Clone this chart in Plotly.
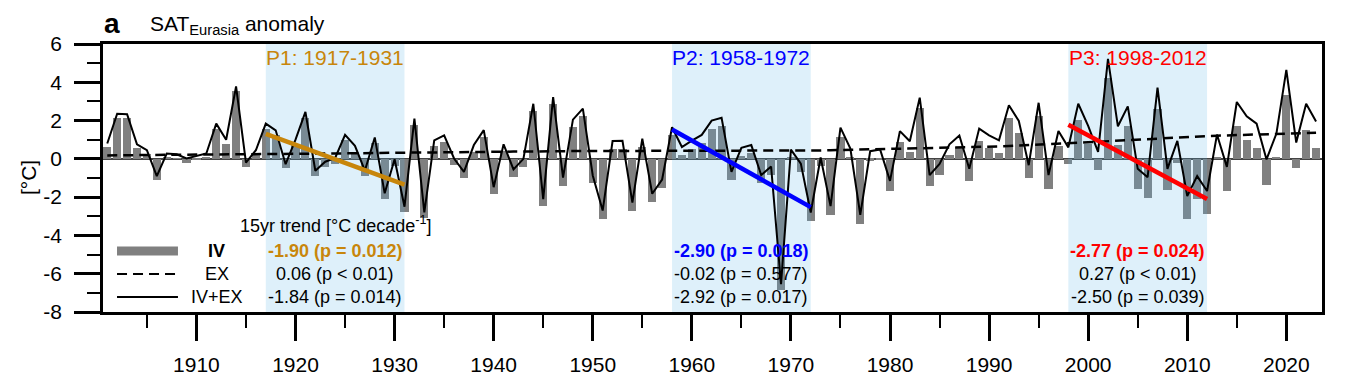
import plotly.graph_objects as go

years = list(range(1901, 2024))

iv = [0.63, 2.15, 2.15, 0.59, 0.25, -1.08, 0.05, 0.02, -0.21, -0.08,
      0.05, 1.58, 0.78, 3.55, -0.42, 0.22, 1.58, 1.23, -0.50, 0.75,
      2.15, -0.88, -0.42, -0.25, 0.97, 0.38, -0.90, 0.82, -2.10, -0.35,
      -2.80, 1.78, -3.10, 0.65, 0.89, -0.33, -1.00, 0.38, 1.15, -1.84,
      0.40, -0.97, -0.42, 2.49, -2.47, 2.85, -1.41, 1.67, 2.22, -1.28,
      -3.16, 0.50, 0.52, -2.71, 0.64, -2.26, -1.50, 1.25, 0.20, 0.50,
      0.85, 1.55, 1.72, -1.10, 0.15, 0.30, -1.25, -0.82, -6.85, 0.05,
      -0.68, -3.25, -0.38, -2.95, 1.15, 0.05, -3.40, -0.10, -0.02, -1.70,
      0.88, 0.35, 2.68, -1.42, -0.85, 0.19, 0.62, -1.15, 0.95, 0.55,
      0.30, 2.15, 1.35, -0.98, 2.22, -1.55, 0.68, -0.25, 2.01, 0.80,
      -0.56, 4.20, 0.72, 1.72, -1.58, -2.05, 2.62, -1.63, -0.22, -3.12,
      -2.10, -2.88, 0.08, -1.67, 1.72, 0.97, 0.57, -1.35, 0.05, 3.35,
      -0.47, 1.50, 0.57]

ivex = [0.80, 2.36, 2.33, 0.76, 0.45, -0.90, 0.28, 0.24, 0.02, 0.14,
        0.28, 1.84, 1.00, 3.78, -0.20, 0.45, 1.84, 1.49, -0.28, 1.00,
        2.45, -0.62, -0.15, 0.05, 1.25, 0.68, -0.62, 1.12, -1.80, -0.02,
        -2.50, 2.10, -2.80, 0.97, 1.23, 0.02, -0.68, 0.72, 1.50, -1.48,
        0.76, -0.55, 0.00, 2.88, -2.10, 3.22, -0.98, 2.05, 2.62, -0.87,
        -2.70, 0.93, 0.94, -2.29, 1.06, -1.82, -1.08, 1.65, 0.62, 0.95,
        1.25, 2.00, 2.15, -0.68, 0.58, 0.72, -0.85, -0.40, -6.55, 0.48,
        -0.25, -2.80, 0.07, -2.47, 1.63, 0.54, -2.93, 0.40, 0.49, -1.15,
        1.45, 0.92, 3.20, -0.85, -0.26, 0.76, 1.22, -0.52, 1.58, 1.23,
        0.97, 2.80, 1.98, -0.33, 2.93, -0.85, 1.46, 0.60, 2.88, 1.72,
        0.36, 5.22, 1.70, 2.74, -0.52, -0.96, 3.72, -0.52, 0.94, -1.94,
        -0.90, -1.68, 1.27, -0.42, 2.97, 2.22, 1.84, -0.03, 1.32, 4.65,
        0.85, 2.88, 1.95]

ex = [0.18, 0.19, 0.20, 0.20, 0.21, 0.21, 0.22, 0.22, 0.22, 0.23,
      0.23, 0.23, 0.24, 0.24, 0.24, 0.25, 0.25, 0.25, 0.26, 0.26,
      0.27, 0.27, 0.28, 0.28, 0.29, 0.29, 0.30, 0.31, 0.31, 0.32,
      0.32, 0.33, 0.33, 0.34, 0.34, 0.35, 0.35, 0.36, 0.36, 0.37,
      0.37, 0.38, 0.38, 0.39, 0.39, 0.40, 0.40, 0.40, 0.41, 0.41,
      0.41, 0.42, 0.42, 0.42, 0.43, 0.43, 0.43, 0.44, 0.44, 0.44,
      0.44, 0.44, 0.44, 0.44, 0.43, 0.43, 0.43, 0.43, 0.43, 0.43,
      0.43, 0.43, 0.44, 0.45, 0.46, 0.47, 0.48, 0.50, 0.51, 0.52,
      0.53, 0.54, 0.55, 0.56, 0.57, 0.58, 0.59, 0.61, 0.62, 0.64,
      0.65, 0.67, 0.69, 0.71, 0.73, 0.75, 0.78, 0.81, 0.84, 0.87,
      0.90, 0.93, 0.96, 0.99, 1.02, 1.05, 1.08, 1.10, 1.13, 1.15,
      1.17, 1.19, 1.21, 1.23, 1.25, 1.27, 1.28, 1.30, 1.31, 1.32,
      1.34, 1.35, 1.36]

period_names = ["P1", "P2", "P3"]
period_start = [1917, 1958, 1998]
period_end = [1931, 1972, 2012]
period_colors = ["#C8860B", "#0000FF", "#FF0000"]
trend_iv = ["-1.90", "-2.90", "-2.77"]
p_iv = ["p = 0.012", "p = 0.018", "p = 0.024"]
trend_ex = ["0.06", "-0.02", "0.27"]
p_ex = ["p &lt; 0.01", "p = 0.577", "p &lt; 0.01"]
trend_all = ["-1.84", "-2.92", "-2.50"]
p_all = ["p = 0.014", "p = 0.017", "p = 0.039"]

x_ticks = [1910, 1920, 1930, 1940, 1950, 1960, 1970, 1980, 1990, 2000, 2010, 2020]
y_ticks = [-8, -6, -4, -2, 0, 2, 4, 6]
y_ticktext = ["-8", "-6", "-4", "-2", "0", "2", "4", "6"]

YMIN, YMAX = -8, 6
FONT = "Liberation Sans, Arial, Helvetica, sans-serif"

fig = go.Figure()

fig.add_trace(go.Bar(x=years, y=iv, marker=dict(color="#808080", line=dict(width=0)),
                     width=0.82, showlegend=False))

# shaded periods (drawn above bars, below lines)
for s, e in zip(period_start, period_end):
    fig.add_trace(go.Scatter(x=[s, e, e, s, s], y=[YMIN, YMIN, YMAX, YMAX, YMIN],
                             mode="lines", fill="toself", line=dict(width=0),
                             fillcolor="rgba(90,180,230,0.2)", hoverinfo="skip",
                             showlegend=False))

fig.add_trace(go.Scatter(x=years, y=ex, mode="lines",
                         line=dict(color="black", width=2.5, dash="10px,6px"),
                         showlegend=False))
fig.add_trace(go.Scatter(x=years, y=ivex, mode="lines",
                         line=dict(color="black", width=2), showlegend=False))

# IV trend lines: published slope (per decade) through the period mean
for s, e, c, t in zip(period_start, period_end, period_colors, trend_iv):
    idx = [i for i, y in enumerate(years) if s <= y <= e]
    xs = [years[i] for i in idx]
    ys = [iv[i] for i in idx]
    xm = sum(xs) / len(xs)
    ym = sum(ys) / len(ys)
    slope = float(t) / 10.0
    fig.add_trace(go.Scatter(x=[s, e], y=[ym + slope * (s - xm), ym + slope * (e - xm)],
                             mode="lines", line=dict(color=c, width=4.5),
                             showlegend=False))

ann = []
shapes = []

row_y = [0.228, 0.142, 0.056]
for name, s, e, c, a1, b1, a2, b2, a3, b3 in zip(period_names, period_start, period_end,
                                                  period_colors, trend_iv, p_iv, trend_ex,
                                                  p_ex, trend_all, p_all):
    xc = (s + e) / 2
    ann.append(dict(x=xc, y=0.948, xref="x", yref="paper", text=f"{name}: {s}-{e}",
                    xanchor="center", yanchor="middle",
                    showarrow=False, font=dict(size=21, color=c, family=FONT)))
    ann.append(dict(x=xc, y=row_y[0], xref="x", yref="paper", text=f"<b>{a1} ({b1})</b>",
                    xanchor="center", yanchor="middle",
                    showarrow=False, font=dict(size=18, color=c, family=FONT)))
    ann.append(dict(x=xc, y=row_y[1], xref="x", yref="paper", text=f"{a2} ({b2})",
                    xanchor="center", yanchor="middle",
                    showarrow=False, font=dict(size=18, color="black", family=FONT)))
    ann.append(dict(x=xc, y=row_y[2], xref="x", yref="paper", text=f"{a3} ({b3})",
                    xanchor="center", yanchor="middle",
                    showarrow=False, font=dict(size=18, color="black", family=FONT)))

ann.append(dict(x=0.191, y=0.325, xref="paper", yref="paper",
                xanchor="center", yanchor="middle",
                text="15yr trend [°C decade<sup>-1</sup>]", showarrow=False,
                font=dict(size=18, color="black", family=FONT)))

# legend
leg_labels = ["<b>IV</b>", "EX", "IV+EX"]
for lab, yy in zip(leg_labels, row_y):
    ann.append(dict(x=0.0935, y=yy, xref="paper", yref="paper", text=lab, showarrow=False,
                    xanchor="center", yanchor="middle",
                    font=dict(size=18, color="black", family=FONT)))
shapes.append(dict(type="line", xref="paper", yref="paper", x0=0.0115, x1=0.0615,
                   y0=row_y[0], y1=row_y[0], line=dict(color="#808080", width=9)))
shapes.append(dict(type="line", xref="paper", yref="paper", x0=0.0115, x1=0.0615,
                   y0=row_y[1], y1=row_y[1], line=dict(color="black", width=2, dash="10px,6px")))
shapes.append(dict(type="line", xref="paper", yref="paper", x0=0.0115, x1=0.0615,
                   y0=row_y[2], y1=row_y[2], line=dict(color="black", width=2)))

# titles
ann.append(dict(x=-0.001, y=1.078, xref="paper", yref="paper", text="<b>a</b>",
                xanchor="left", yanchor="middle", showarrow=False,
                font=dict(size=28, color="black", family=FONT)))
ann.append(dict(x=0.0369, y=1.07, xref="paper", yref="paper",
                text="SAT<sub>Eurasia</sub> anomaly", xanchor="left", yanchor="middle",
                showarrow=False, font=dict(size=21, color="black", family=FONT)))
ann.append(dict(x=-0.0615, y=0.5, xref="paper", yref="paper", text="[°C]", textangle=-90,
                xanchor="center", yanchor="middle",
                showarrow=False, font=dict(size=21, color="black", family=FONT)))

# page body has an 8px margin: shift the figure so the plot lands where the reference has it
fig.update_layout(
    width=1342, height=384,
    margin=dict(l=95, r=28, t=36, b=80),
    plot_bgcolor="white", paper_bgcolor="white",
    bargap=0, showlegend=False,
    annotations=ann, shapes=shapes,
    font=dict(family=FONT, size=20, color="black"),
)
fig.update_xaxes(range=[1900.57, 2023.6], showgrid=False, zeroline=False,
                 showline=True, linecolor="black", linewidth=2.5, mirror=True,
                 ticks="outside", ticklen=26, tickwidth=2.5, tickcolor="black",
                 tickvals=x_ticks, ticktext=[str(v) for v in x_ticks],
                 tickfont=dict(size=21, family=FONT), ticklabelstandoff=6,
                 minor=dict(dtick=5, tick0=1905, ticks="outside", ticklen=13,
                            tickwidth=1.5, tickcolor="black"))
fig.update_yaxes(range=[YMIN, YMAX], showgrid=False,
                 zeroline=True, zerolinecolor="#444444", zerolinewidth=1.5,
                 showline=True, linecolor="black", linewidth=2.5, mirror=True,
                 ticks="outside", ticklen=26, tickwidth=2.5, tickcolor="black",
                 tickvals=y_ticks, ticktext=y_ticktext,
                 tickfont=dict(size=21, family=FONT), ticklabelstandoff=8,
                 minor=dict(dtick=1, ticks="outside", ticklen=13,
                            tickwidth=1.5, tickcolor="black"))

fig.write_html("out.html")
